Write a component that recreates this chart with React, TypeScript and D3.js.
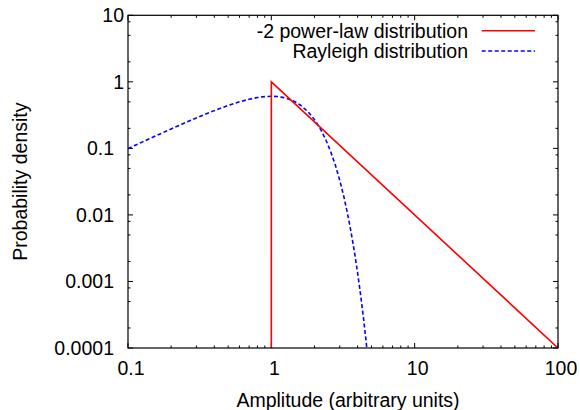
import React from "react";
import * as d3 from "d3";

const xTickValues = [0.1, 1, 10, 100];
const xTickLabels = ["0.1", "1", "10", "100"];
const yTickValues = [0.0001, 0.001, 0.01, 0.1, 1, 10];
const yTickLabels = ["0.0001", "0.001", "0.01", "0.1", "1", "10"];

const powerX = [1, 1, 100];
const powerY = [0.0001, 1, 0.0001];

const rayleighX = [0.1, 0.15, 0.2, 0.25, 0.3, 0.4, 0.5, 0.6, 0.7, 0.8, 0.9, 1.0, 1.1, 1.2, 1.3, 1.4, 1.5, 1.6, 1.8, 2.0, 2.2, 2.4, 2.6, 2.8, 3.0, 3.2, 3.4, 3.6, 3.8, 4.0, 4.2, 4.4, 4.6, 4.7];
const rayleighY = [0.0995, 0.1483, 0.196, 0.2423, 0.2868, 0.3692, 0.4412, 0.5012, 0.5479, 0.5809, 0.6003, 0.6065, 0.6007, 0.5842, 0.5585, 0.5254, 0.487, 0.4448, 0.3562, 0.2707, 0.1956, 0.1347, 0.0885, 0.0556, 0.0333, 0.01912, 0.0105, 0.005523, 0.002779, 0.001342, 0.00062, 0.000275, 0.0001169, 0.000075];

const legendLabels = ["-2 power-law distribution", "Rayleigh distribution"];

const W = 580;
const H = 410;
const M = { left: 128, right: 22, top: 15.3, bottom: 62 };

export default function App() {
  const x = d3.scaleLog().domain([0.1, 100]).range([M.left, W - M.right]);
  const y = d3.scaleLog().domain([0.0001, 10]).range([H - M.bottom, M.top]);
  const x0 = M.left, x1 = W - M.right, y0 = H - M.bottom, y1 = M.top;

  const line = d3.line<[number, number]>().x((d) => x(d[0])).y((d) => y(d[1]));
  const powerPts: [number, number][] = powerX.map((v, i) => [v, powerY[i]]);
  const rayPts: [number, number][] = rayleighX.map((v, i) => [v, rayleighY[i]]);

  const xMinor: number[] = [];
  [0.1, 1, 10].forEach((d) => { for (let k = 2; k <= 9; k++) xMinor.push(d * k); });
  const yMinor: number[] = [];
  [0.0001, 0.001, 0.01, 0.1, 1].forEach((d) => { [2, 5, 8].forEach((k) => yMinor.push(d * k)); });

  const font = "'Liberation Sans', Arial, Helvetica, sans-serif";
  const fs = 19.5;
  const MAJ = 5, MIN = 2.5;

  return (
    <svg width={W} height={H} style={{ display: "block", position: "absolute", left: 0, top: 0, background: "#fff" }} fontFamily={font}>
      <defs>
        <clipPath id="plotclip">
          <rect x={x0} y={y1} width={x1 - x0} height={y0 - y1} />
        </clipPath>
      </defs>
      <rect x={0} y={0} width={W} height={H} fill="#fff" />
      {/* ticks */}
      <g stroke="#000" strokeWidth={1}>
        {xTickValues.map((v) => (
          <g key={"xm" + v}>
            <line x1={x(v)} x2={x(v)} y1={y0} y2={y0 - MAJ} />
            <line x1={x(v)} x2={x(v)} y1={y1} y2={y1 + MAJ} />
          </g>
        ))}
        {xMinor.map((v) => (
          <g key={"xn" + v}>
            <line x1={x(v)} x2={x(v)} y1={y0} y2={y0 - MIN} />
            <line x1={x(v)} x2={x(v)} y1={y1} y2={y1 + MIN} />
          </g>
        ))}
        {yTickValues.map((v) => (
          <g key={"ym" + v}>
            <line x1={x0} x2={x0 + MAJ} y1={y(v)} y2={y(v)} />
            <line x1={x1} x2={x1 - MAJ} y1={y(v)} y2={y(v)} />
          </g>
        ))}
        {yMinor.map((v) => (
          <g key={"yn" + v}>
            <line x1={x0} x2={x0 + MIN} y1={y(v)} y2={y(v)} />
            <line x1={x1} x2={x1 - MIN} y1={y(v)} y2={y(v)} />
          </g>
        ))}
      </g>
      {/* curves */}
      <g clipPath="url(#plotclip)" fill="none">
        <path d={line(rayPts) || ""} stroke="#0000ff" strokeWidth={1.6} strokeDasharray="4,2.5" />
        <path d={line(powerPts) || ""} stroke="#ff0000" strokeWidth={1.6} />
      </g>
      {/* frame */}
      <rect x={x0} y={y1} width={x1 - x0} height={y0 - y1} fill="none" stroke="#000" strokeWidth={1.2} />
      {/* tick labels */}
      <g fontSize={fs} fill="#000">
        {xTickValues.map((v, i) => (
          <text key={"xl" + v} x={x(v) + 3} y={y0 + 27} textAnchor="middle">{xTickLabels[i]}</text>
        ))}
        {yTickValues.map((v, i) => (
          <text key={"yl" + v} x={x0 - 4 - (yTickLabels[i].includes(".") ? 10 : 0)} y={y(v)} dy="0.36em" textAnchor="end">{yTickLabels[i]}</text>
        ))}
      </g>
      {/* axis labels */}
      <text x={(x0 + x1) / 2 + 5} y={H - 3} textAnchor="middle" fontSize={fs}>Amplitude (arbitrary units)</text>
      <text transform={`translate(26.5,${(y0 + y1) / 2}) rotate(-90)`} textAnchor="middle" fontSize={fs}>Probability density</text>
      {/* legend */}
      <g fontSize={fs}>
        {legendLabels.map((t, i) => (
          <g key={t}>
            <text x={468} y={30.7 + i * 20.3} dy="0.36em" textAnchor="end">{t}</text>
            <line x1={481.7} x2={535} y1={30.7 + i * 20.3} y2={30.7 + i * 20.3}
              stroke={i === 0 ? "#ff0000" : "#0000ff"} strokeWidth={1.6}
              strokeDasharray={i === 0 ? undefined : "4,2.5"} />
          </g>
        ))}
      </g>
    </svg>
  );
}
